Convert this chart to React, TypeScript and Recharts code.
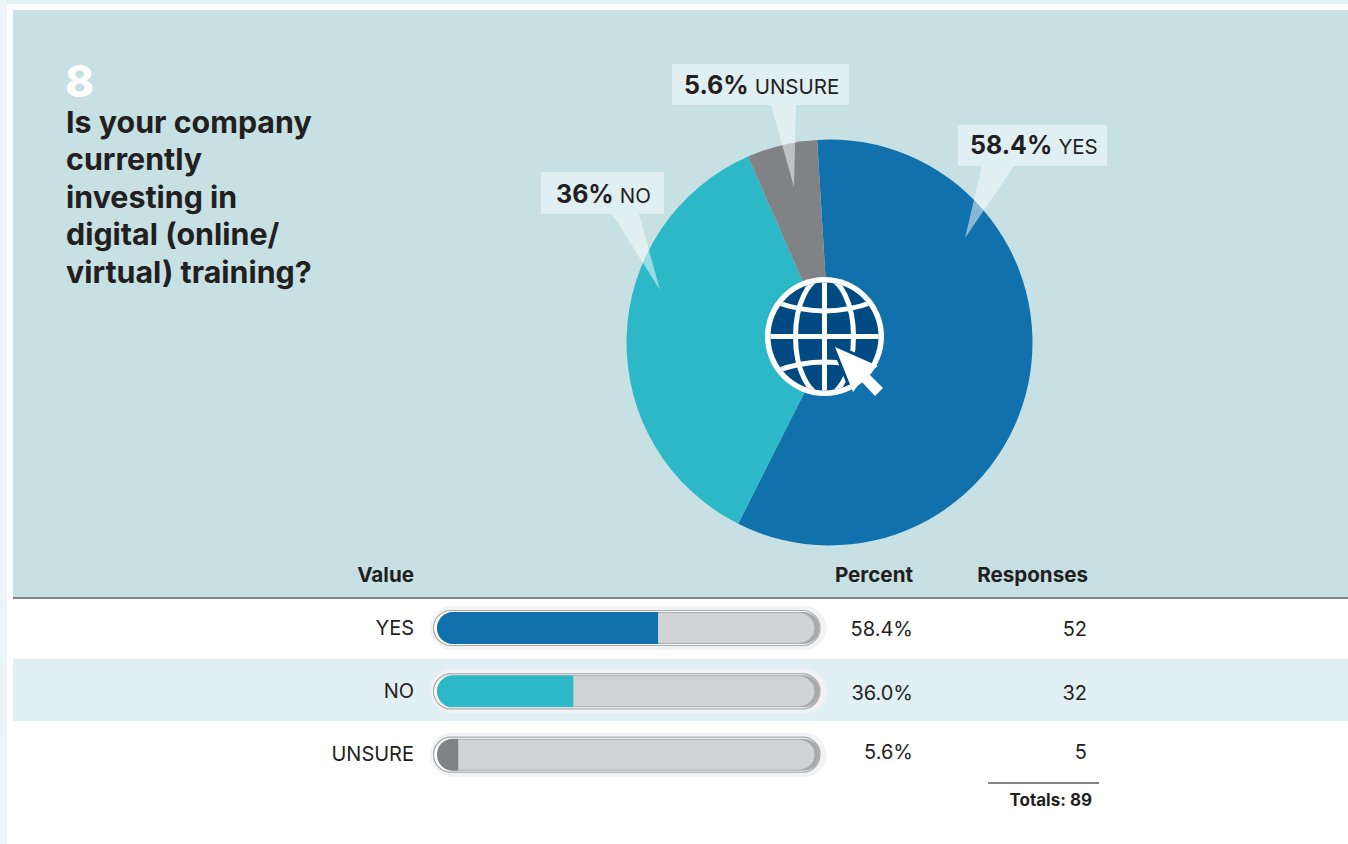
import React from "react"
import { PieChart, Pie, Cell, BarChart, Bar, XAxis, YAxis } from "recharts"

const categories = ["YES", "NO", "UNSURE"]
const percents = [58.4, 36.0, 5.6]
const percentCells = ["58.4%", "36.0%", "5.6%"]
const calloutPercents = ["58.4%", "36%", "5.6%"]
const responses = [52, 32, 5]
const questionLines = ["Is your company", "currently", "investing in", "digital (online/", "virtual) training?"]

const COLORS = ["#1171ad", "#2cb8c6", "#808285"]
const FONT = "Inter, sans-serif"
const INK = "#231f20"

const pieData = categories.map((name, i) => ({ name, value: percents[i] }))
const barData = categories.map((name, i) => ({ name, percent: percents[i] }))

// box + tail geometry for the pie callouts, same order as categories
const callouts = [
  { x: 958, y: 125, w: 149, h: 41, tail: "982,166 1014,166 965,238", tx: 970, ty: 154 },
  { x: 541, y: 172, w: 123, h: 42, tail: "612,214 639,214 660,290", tx: 556, ty: 203 },
  { x: 672, y: 64, w: 177, h: 41, tail: "771,105 796,105 794,187", tx: 684, ty: 94 },
]

function Track(props: any) {
  const { x, y, width, height } = props
  const r = height / 2
  return (
    <g>
      <rect x={x - 7} y={y - 6} width={width + 18} height={height + 12} rx={r + 6} fill="#f1f2f3" />
      <rect x={x - 3.5} y={y - 1.5} width={width + 8} height={height + 3} rx={r + 1.5} fill="#fff" stroke="#a7a9ac" strokeWidth={1.2} />
      <rect x={x} y={y} width={width + 4} height={height} rx={r} fill="#a7a9ac" />
      <rect x={x} y={y + 1} width={width - 1} height={height - 2} rx={r} fill="#d1d3d4" />
    </g>
  )
}

function FillBar(props: any) {
  const { x, y, width, height, fill, background, index } = props
  const id = `track-clip-${index}`
  return (
    <g>
      <clipPath id={id}>
        <rect x={background.x} y={background.y} width={background.width} height={background.height} rx={background.height / 2} />
      </clipPath>
      <rect x={x} y={y} width={width} height={height} fill={fill} clipPath={`url(#${id})`} />
    </g>
  )
}

function Globe() {
  const navy = "#004a84"
  return (
    <g>
      <clipPath id="globe-clip">
        <circle cx={824.5} cy={336.5} r={54} />
      </clipPath>
      <circle cx={824.5} cy={336.5} r={59.5} fill="#fff" />
      <circle cx={824.5} cy={336.5} r={54} fill={navy} />
      <g clipPath="url(#globe-clip)" fill="none" stroke="#fff" strokeWidth={5}>
        <line x1={824.5} y1={277} x2={824.5} y2={396} />
        <line x1={765} y1={336.5} x2={884} y2={336.5} />
        <ellipse cx={824.5} cy={336.5} rx={29} ry={59} />
        <path d="M776 302 Q824.5 320 873 302" />
        <path d="M776 371 Q824.5 353 873 371" />
        <polygon points="835,347 878,366 868,373 883,388 875,396 861,381 853,392" stroke={navy} strokeWidth={6} />
      </g>
      <polygon points="835,347 878,366 868,373 883,388 875,396 861,381 853,392" fill="#fff" />
    </g>
  )
}

function cell(right: number, centre: number, text: string | number, size: number, weight: number) {
  return (
    <div
      style={{
        position: "absolute",
        right: 1348 - right,
        top: centre - 15,
        height: 30,
        lineHeight: "30px",
        fontSize: size,
        fontWeight: weight,
        color: INK,
        whiteSpace: "nowrap",
      }}
    >
      {text}
    </div>
  )
}

export default function App() {
  const rowCentres = [629, 693, 752]
  return (
    <div style={{ position: "absolute", left: 0, top: 0, width: 1348, height: 844, background: "#fff", overflow: "hidden", fontFamily: FONT }}>
      <div style={{ position: "absolute", left: 0, top: 0, width: 1348, height: 4, background: "#e0f0f3" }} />
      <div style={{ position: "absolute", left: 0, top: 0, width: 7, height: 844, background: "#ecf6f8" }} />
      <div style={{ position: "absolute", left: 13, top: 10, width: 1335, height: 587, background: "#c6e0e3" }} />
      <div style={{ position: "absolute", left: 13, top: 597, width: 1335, height: 2, background: "#808285" }} />
      <div style={{ position: "absolute", left: 13, top: 659, width: 1335, height: 62, background: "#e0f0f3" }} />

      <div style={{ position: "absolute", left: 65, top: 57, fontSize: 44, lineHeight: "48px", fontWeight: 800, color: "#fff" }}>8</div>
      <div style={{ position: "absolute", left: 66, top: 104, fontSize: 30.4, lineHeight: "37.4px", fontWeight: 700, color: INK, whiteSpace: "nowrap" }}>
        {questionLines.map((line) => (
          <div key={line}>{line}</div>
        ))}
      </div>

      <div style={{ position: "absolute", left: 0, top: 0 }}>
        <PieChart width={1348} height={600} margin={{ top: 0, right: 0, bottom: 0, left: 0 }}>
          <Pie
            data={pieData}
            dataKey="value"
            cx={829.5}
            cy={342.5}
            outerRadius={203}
            innerRadius={0}
            startAngle={93.5}
            endAngle={-266.5}
            stroke="none"
            isAnimationActive={false}
          >
            {pieData.map((d, i) => (
              <Cell key={d.name} fill={COLORS[i]} />
            ))}
          </Pie>
        </PieChart>
      </div>

      <svg width={1348} height={600} style={{ position: "absolute", left: 0, top: 0 }}>
        {callouts.map((c, i) => (
          <g key={categories[i]}>
            <polygon points={c.tail} fill="#fff" fillOpacity={0.5} />
            <rect x={c.x} y={c.y} width={c.w} height={c.h} fill="#e0f0f2" />
            <text x={c.tx} y={c.ty} fill={INK} fontFamily={FONT}>
              <tspan fontSize={25} fontWeight={700}>{calloutPercents[i]}</tspan>
              <tspan fontSize={20.5} dx={6}>{categories[i]}</tspan>
            </text>
          </g>
        ))}
        <Globe />
      </svg>

      {cell(414, 575, "Value", 20.6, 700)}
      {cell(913, 575, "Percent", 20.6, 700)}
      {cell(1088, 575, "Responses", 20.6, 700)}

      <div style={{ position: "absolute", left: 0, top: 596 }}>
        <BarChart
          width={1348}
          height={190}
          data={barData}
          layout="vertical"
          margin={{ top: 0, right: 532.5, bottom: 0, left: 414 }}
          barSize={32}
        >
          <XAxis type="number" domain={[0, 100]} hide />
          <YAxis
            type="category"
            dataKey="name"
            width={23}
            axisLine={false}
            tickLine={false}
            tickMargin={17}
            tick={{ fill: INK, fontSize: 20, fontFamily: FONT }}
          />
          <Bar dataKey="percent" background={(p: any) => <Track {...p} />} shape={(p: any) => <FillBar {...p} />} isAnimationActive={false}>
            {barData.map((d, i) => (
              <Cell key={d.name} fill={COLORS[i]} />
            ))}
          </Bar>
        </BarChart>
      </div>

      {rowCentres.map((centre, i) => (
        <React.Fragment key={categories[i]}>
          {cell(913, centre, percentCells[i], 20, 400)}
          {cell(1087, centre, responses[i], 20, 400)}
        </React.Fragment>
      ))}

      <div style={{ position: "absolute", left: 988, top: 782, width: 111, height: 2, background: "#808285" }} />
      {cell(1092, 800, `Totals: ${responses.reduce((a, b) => a + b, 0)}`, 17, 700)}
    </div>
  )
}
